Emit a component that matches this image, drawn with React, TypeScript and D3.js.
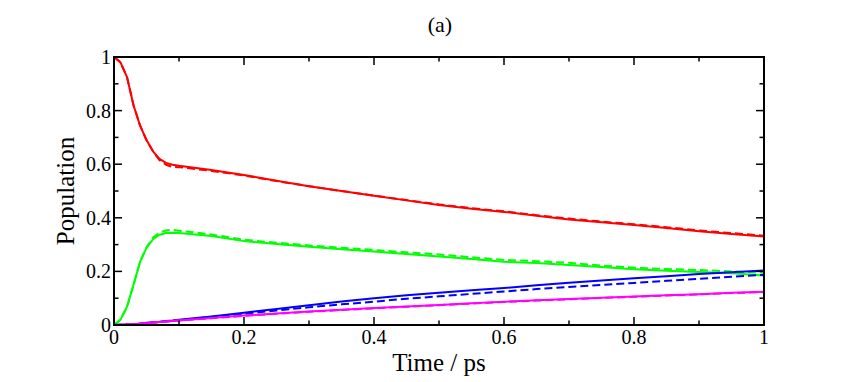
import React from "react";
import * as d3 from "d3";

const times = [0, 0.01, 0.02, 0.03, 0.04, 0.05, 0.06, 0.07, 0.08, 0.09, 0.1, 0.15, 0.2, 0.25, 0.3, 0.35, 0.4, 0.45, 0.5, 0.55, 0.6, 0.65, 0.7, 0.75, 0.8, 0.85, 0.9, 0.95, 1.0];

const redSolid = [1.0, 0.98, 0.925, 0.82, 0.745, 0.69, 0.648, 0.62, 0.605, 0.598, 0.594, 0.578, 0.56, 0.538, 0.518, 0.5, 0.482, 0.465, 0.448, 0.434, 0.422, 0.408, 0.394, 0.383, 0.373, 0.362, 0.35, 0.34, 0.33];
const redDashed = [1.0, 0.98, 0.925, 0.82, 0.745, 0.69, 0.648, 0.615, 0.598, 0.59, 0.589, 0.575, 0.558, 0.537, 0.518, 0.5, 0.483, 0.466, 0.45, 0.436, 0.424, 0.41, 0.397, 0.386, 0.376, 0.365, 0.353, 0.343, 0.333];
const greenSolid = [0, 0.02, 0.068, 0.15, 0.235, 0.288, 0.32, 0.337, 0.343, 0.344, 0.343, 0.332, 0.313, 0.302, 0.292, 0.283, 0.274, 0.265, 0.256, 0.246, 0.236, 0.231, 0.224, 0.216, 0.208, 0.202, 0.198, 0.193, 0.185];
const greenDashed = [0, 0.02, 0.068, 0.15, 0.235, 0.29, 0.326, 0.345, 0.353, 0.355, 0.352, 0.338, 0.318, 0.307, 0.297, 0.288, 0.28, 0.271, 0.263, 0.253, 0.243, 0.238, 0.232, 0.222, 0.214, 0.209, 0.205, 0.2, 0.195];
const blueSolid = [0, 0.001, 0.002, 0.003, 0.005, 0.008, 0.01, 0.012, 0.015, 0.017, 0.02, 0.032, 0.046, 0.06, 0.074, 0.088, 0.1, 0.111, 0.12, 0.13, 0.138, 0.148, 0.158, 0.166, 0.174, 0.182, 0.19, 0.197, 0.203];
const blueDashed = [0, 0.001, 0.002, 0.003, 0.005, 0.007, 0.009, 0.011, 0.013, 0.016, 0.018, 0.03, 0.042, 0.054, 0.066, 0.077, 0.087, 0.098, 0.107, 0.116, 0.125, 0.134, 0.142, 0.15, 0.157, 0.165, 0.172, 0.18, 0.187];
const magentaSolid = [0, 0.001, 0.002, 0.003, 0.005, 0.007, 0.009, 0.011, 0.013, 0.015, 0.017, 0.026, 0.035, 0.043, 0.05, 0.057, 0.063, 0.069, 0.075, 0.081, 0.087, 0.092, 0.097, 0.102, 0.106, 0.111, 0.115, 0.12, 0.124];
const magentaDashed = [0, 0.001, 0.002, 0.003, 0.005, 0.007, 0.009, 0.011, 0.013, 0.015, 0.017, 0.025, 0.034, 0.042, 0.049, 0.056, 0.062, 0.068, 0.074, 0.08, 0.086, 0.091, 0.096, 0.101, 0.105, 0.11, 0.114, 0.119, 0.123];

const xTickLabels = ["0", "0.2", "0.4", "0.6", "0.8", "1"];
const yTickLabels = ["0", "0.2", "0.4", "0.6", "0.8", "1"];

const seriesList = [
  { values: redSolid, color: "#ff0000", dashed: false },
  { values: redDashed, color: "#ff0000", dashed: true },
  { values: greenSolid, color: "#00ff00", dashed: false },
  { values: greenDashed, color: "#00ff00", dashed: true },
  { values: blueSolid, color: "#0000ff", dashed: false },
  { values: blueDashed, color: "#0000ff", dashed: true },
  { values: magentaSolid, color: "#ff00ff", dashed: false },
  { values: magentaDashed, color: "#ff00ff", dashed: true },
];

const FONT = "Liberation Serif";

export default function App() {
  const W = 841, H = 382;
  const left = 114, right = 764, top = 57, bottom = 325;
  const x = d3.scaleLinear().domain([0, 1]).range([left, right]);
  const y = d3.scaleLinear().domain([0, 1]).range([bottom, top]);
  const line = d3.line<number>().x((_, i) => x(times[i])).y((d) => y(d));
  const majors = d3.range(0, 1.0001, 0.2);
  const minors = d3.range(0.1, 1, 0.2);
  const majLen = 8, minLen = 4.5;

  return (
    <svg width={W} height={H} style={{ position: "absolute", left: 0, top: 0, background: "#fff" }}>
      <rect width={W} height={H} fill="#fff" />
      <defs>
        <clipPath id="plotclip">
          <rect x={left} y={top - 2} width={right - left + 2} height={bottom - top + 4} />
        </clipPath>
      </defs>
      <g clipPath="url(#plotclip)">
        {seriesList.map((s, i) => (
          <path key={i} d={line(s.values) || ""} fill="none" stroke={s.color} strokeWidth={2}
            strokeDasharray={s.dashed ? "8,4" : undefined} strokeLinejoin="round" />
        ))}
      </g>
      <rect x={left} y={top} width={right - left} height={bottom - top} fill="none" stroke="#000" strokeWidth={2} />
      {majors.map((v, i) => (
        <g key={"xM" + i}>
          <line x1={x(v)} x2={x(v)} y1={bottom} y2={bottom - majLen} stroke="#000" strokeWidth={1.5} />
          <line x1={x(v)} x2={x(v)} y1={top} y2={top + majLen} stroke="#000" strokeWidth={1.5} />
          <line y1={y(v)} y2={y(v)} x1={left} x2={left + majLen} stroke="#000" strokeWidth={1.5} />
          <line y1={y(v)} y2={y(v)} x1={right} x2={right - majLen} stroke="#000" strokeWidth={1.5} />
        </g>
      ))}
      {minors.map((v, i) => (
        <g key={"xm" + i}>
          <line x1={x(v)} x2={x(v)} y1={bottom} y2={bottom - minLen} stroke="#000" strokeWidth={1.5} />
          <line x1={x(v)} x2={x(v)} y1={top} y2={top + minLen} stroke="#000" strokeWidth={1.5} />
          <line y1={y(v)} y2={y(v)} x1={left} x2={left + minLen} stroke="#000" strokeWidth={1.5} />
          <line y1={y(v)} y2={y(v)} x1={right} x2={right - minLen} stroke="#000" strokeWidth={1.5} />
        </g>
      ))}
      {xTickLabels.map((t, i) => (
        <text key={"xl" + i} x={x(majors[i])} y={344} fontSize={20} fontFamily={FONT} textAnchor="middle" fill="#000">{t}</text>
      ))}
      {yTickLabels.map((t, i) => (
        <text key={"yl" + i} x={111} y={y(majors[i]) + 7} fontSize={20} fontFamily={FONT} textAnchor="end" fill="#000">{t}</text>
      ))}
      <text x={(left + right) / 2} y={371} fontSize={25} fontFamily={FONT} textAnchor="middle" fill="#000">Time / ps</text>
      <text transform={`translate(74, ${(top + bottom) / 2}) rotate(-90)`} fontSize={25} fontFamily={FONT} textAnchor="middle" fill="#000">Population</text>
      <text x={(left + right) / 2 + 1} y={32} fontSize={22} fontFamily={FONT} textAnchor="middle" fill="#000">(a)</text>
    </svg>
  );
}
